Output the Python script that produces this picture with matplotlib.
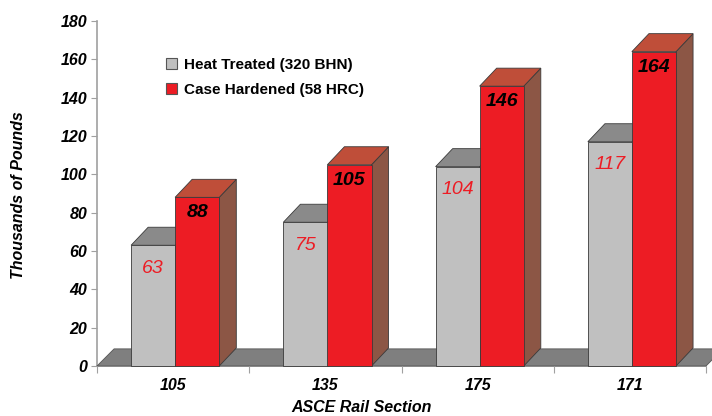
import matplotlib
matplotlib.use("Agg")
import matplotlib.pyplot as plt
from matplotlib.patches import Patch

categories = ["105", "135", "175", "171"]
heat_treated = [63, 75, 104, 117]
case_hardened = [88, 105, 146, 164]
series_names = ["Heat Treated (320 BHN)", "Case Hardened (58 HRC)"]
yticks = [0, 20, 40, 60, 80, 100, 120, 140, 160, 180]

plt.rcParams['font.family'] = ['Liberation Sans', 'DejaVu Sans']

W, H = 712, 416
fig = plt.figure(figsize=(W / 100, H / 100), dpi=100)
ax = fig.add_axes([97 / W, (H - 366) / H, (706 - 97) / W, (366 - 21) / H])
ax.set_xlim(0, len(categories))
ax.set_ylim(0, 180)

# depth of the pseudo-3D effect (in data units)
DX = 0.112
DY = 9.4
BW = 0.29
OFF = [0.224, 0.513]

front_cols = ["#C0C0C0", "#ED1C24"]
top_cols = ["#8A8A8A", "#BF4E39"]
side_cols = ["#7A7A7A", "#8C5645"]
edge = "#3a3a3a"

# floor
n = len(categories)
ax.fill([0, n, n + DX, DX], [0, 0, DY * 0.95, DY * 0.95], color="#7F7F7F",
        ec="#555555", lw=0.6, zorder=1, clip_on=False)

for i in range(n):
    for s, vals in enumerate([heat_treated, case_hardened]):
        v = vals[i]
        x0 = i + OFF[s]
        x1 = x0 + BW
        z = 2 + s
        # side face
        ax.fill([x1, x1 + DX, x1 + DX, x1], [0, DY, v + DY, v],
                color=side_cols[s], ec=edge, lw=0.6, zorder=z, clip_on=False)
        # top face
        ax.fill([x0, x1, x1 + DX, x0 + DX], [v, v, v + DY, v + DY],
                color=top_cols[s], ec=edge, lw=0.6, zorder=z, clip_on=False)
        # front face
        ax.fill([x0, x1, x1, x0], [0, 0, v, v],
                color=front_cols[s], ec=edge, lw=0.6, zorder=z, clip_on=False)
        # value label
        if s == 0:
            ax.text((x0 + x1) / 2, v - 12, str(v), ha="center", va="center",
                    fontsize=14, style="italic", color="#ED1C24", zorder=5)
        else:
            ax.text((x0 + x1) / 2, v - 8.0, str(v), ha="center", va="center",
                    fontsize=14, style="italic", fontweight="bold",
                    color="black", zorder=5)

# axes styling
for sp in ["top", "right"]:
    ax.spines[sp].set_visible(False)
for sp in ["left", "bottom"]:
    ax.spines[sp].set_color("#A0A0A0")
    ax.spines[sp].set_linewidth(1.2)
    ax.spines[sp].set_zorder(0.5)

ax.set_yticks(yticks)
ax.set_yticklabels([str(t) for t in yticks], fontsize=11.5,
                   fontweight="bold", style="italic")
ax.tick_params(axis="y", length=4, color="#A0A0A0", pad=3)

ax.set_xticks(range(n + 1))
ax.set_xticklabels([])
ax.tick_params(axis="x", which="major", length=5, color="#A0A0A0")
ax.set_xticks([i + 0.5 for i in range(n)], minor=True)
ax.set_xticklabels(categories, minor=True, fontsize=11.5,
                   fontweight="bold", style="italic")
ax.tick_params(axis="x", which="minor", length=0, pad=9)

fig.text(362 / W, 1 - 407 / H, "ASCE Rail Section", ha="center", va="center",
         fontsize=11.5, fontweight="bold", style="italic")
fig.text(19 / W, 1 - 195 / H, "Thousands of Pounds", ha="center", va="center",
         rotation=90, fontsize=11.5, fontweight="bold", style="italic")

handles = [Patch(facecolor=front_cols[0], edgecolor="#555555", lw=0.8),
           Patch(facecolor=front_cols[1], edgecolor="#555555", lw=0.8)]
leg = fig.legend(handles, series_names, loc="upper left",
                 bbox_to_anchor=(152 / W, 1 - 44 / H), frameon=False,
                 handlelength=0.75, handleheight=0.75, handletextpad=0.45,
                 labelspacing=0.75, prop={"size": 11, "weight": "bold"})

fig.savefig("out.png", dpi=100)
